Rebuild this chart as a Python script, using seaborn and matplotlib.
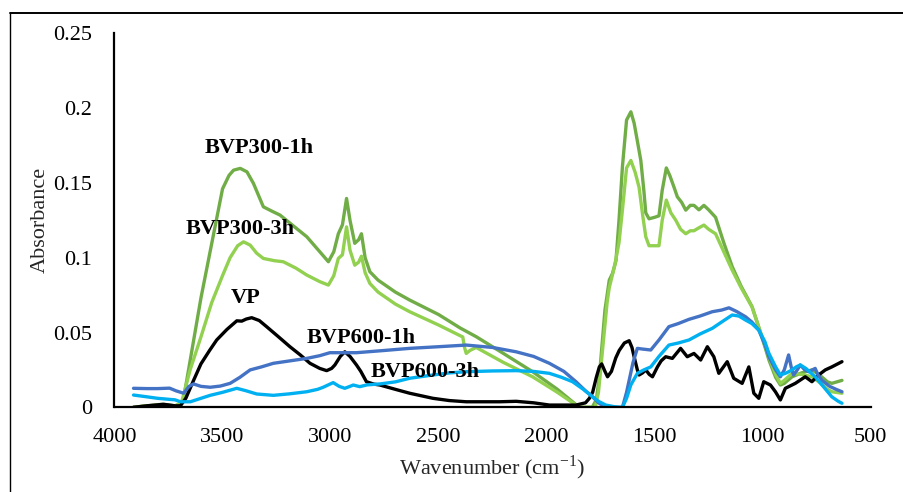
import numpy as np
import pandas as pd
import matplotlib
matplotlib.use("Agg")
import matplotlib.pyplot as plt
import seaborn as sns
from matplotlib.lines import Line2D

# ---- data ----
wn_300_1h = [3912, 3850, 3780, 3720, 3695, 3680, 3600, 3500, 3470, 3449, 3418, 3387, 3357, 3311, 3270, 3234,
             3170, 3110, 3050, 3010, 2985, 2964, 2945, 2926, 2910, 2888, 2870, 2857, 2840, 2818, 2780, 2700,
             2634, 2500, 2400, 2326, 2200, 2065, 1950, 1849, 1789, 1770, 1756, 1730, 1710, 1695, 1679, 1665,
             1649, 1630, 1610, 1595, 1580, 1564, 1550, 1541, 1526, 1500, 1480, 1465, 1446, 1430, 1410, 1395,
             1375, 1356, 1335, 1318, 1295, 1272, 1250, 1218, 1180, 1141, 1100, 1049, 1010, 971, 940, 918,
             900, 864, 820, 772, 740, 700, 680, 633]
ab_300_1h = [0.000, 0.001, 0.002, 0.001, 0.002, 0.006, 0.073, 0.146, 0.155, 0.1585, 0.1597, 0.1574, 0.1497, 0.134, 0.131, 0.1285,
             0.121, 0.114, 0.104, 0.0973, 0.104, 0.116, 0.122, 0.1396, 0.125, 0.1096, 0.112, 0.116, 0.100, 0.0906, 0.085, 0.077,
             0.0717, 0.062, 0.053, 0.0472, 0.036, 0.0238, 0.012, 0.000, 0.000, 0.005, 0.020, 0.065, 0.085, 0.0895, 0.098, 0.125,
             0.161, 0.192, 0.1975, 0.190, 0.178, 0.165, 0.145, 0.130, 0.126, 0.127, 0.128, 0.145, 0.160, 0.155, 0.147, 0.1407,
             0.137, 0.1318, 0.135, 0.135, 0.132, 0.135, 0.132, 0.127, 0.110, 0.094, 0.081, 0.0672, 0.050, 0.0316, 0.020, 0.0149,
             0.016, 0.0204, 0.023, 0.025, 0.022, 0.017, 0.016, 0.018]

wn_300_3h = [3912, 3850, 3780, 3720, 3690, 3650, 3600, 3550, 3500, 3465, 3430, 3403, 3372, 3342, 3311, 3260,
             3219, 3160, 3110, 3050, 3010, 2985, 2964, 2945, 2926, 2910, 2888, 2870, 2857, 2840, 2818, 2780,
             2700, 2634, 2500, 2388, 2380, 2372, 2355, 2326, 2200, 2065, 1950, 1849, 1775, 1760, 1740, 1720,
             1710, 1686, 1665, 1649, 1630, 1610, 1590, 1572, 1555, 1541, 1526, 1500, 1480, 1465, 1446, 1425,
             1402, 1380, 1356, 1335, 1318, 1295, 1272, 1250, 1218, 1180, 1141, 1100, 1049, 1010, 971, 940,
             918, 900, 864, 820, 772, 740, 700, 680, 633]
ab_300_3h = [0.000, 0.001, 0.001, 0.001, 0.003, 0.025, 0.047, 0.070, 0.088, 0.100, 0.108, 0.1106, 0.1084, 0.103, 0.0995, 0.098,
             0.0973, 0.093, 0.0884, 0.084, 0.0817, 0.088, 0.0995, 0.102, 0.1206, 0.105, 0.095, 0.097, 0.101, 0.090, 0.0828, 0.077,
             0.069, 0.0639, 0.055, 0.047, 0.040, 0.036, 0.038, 0.040, 0.030, 0.0204, 0.010, 0.000, 0.000, 0.010, 0.040, 0.070,
             0.080, 0.094, 0.110, 0.132, 0.160, 0.165, 0.157, 0.147, 0.128, 0.114, 0.108, 0.108, 0.108, 0.125, 0.1385, 0.130,
             0.125, 0.119, 0.116, 0.118, 0.118, 0.120, 0.1218, 0.119, 0.116, 0.104, 0.0917, 0.080, 0.067, 0.050, 0.0338, 0.022,
             0.016, 0.018, 0.0227, 0.022, 0.0204, 0.017, 0.012, 0.0104, 0.0094]

wn_vp = [3912, 3850, 3772, 3720, 3695, 3670, 3634, 3600, 3560, 3527, 3480, 3434, 3411, 3390, 3365, 3330,
         3296, 3240, 3188, 3140, 3095, 3050, 3018, 2995, 2980, 2955, 2934, 2910, 2880, 2860, 2834, 2800,
         2772, 2700, 2634, 2526, 2450, 2372, 2218, 2141, 2060, 1987, 1864, 1820, 1802, 1787, 1770, 1756,
         1745, 1730, 1718, 1700, 1680, 1664, 1640, 1618, 1605, 1595, 1580, 1572, 1556, 1541, 1525, 1510,
         1487, 1470, 1449, 1418, 1380, 1349, 1318, 1287, 1256, 1226, 1203, 1164, 1134, 1095, 1064, 1041,
         1018, 995, 964, 941, 918, 895, 849, 803, 772, 741, 710, 680, 633]
ab_vp = [0.000, 0.001, 0.002, 0.001, 0.001, 0.006, 0.018, 0.029, 0.038, 0.045, 0.052, 0.0578, 0.0576, 0.059, 0.0599, 0.058,
         0.0539, 0.047, 0.0405, 0.035, 0.0294, 0.026, 0.0245, 0.026, 0.0283, 0.034, 0.0371, 0.034, 0.0283, 0.024, 0.0171, 0.0155,
         0.0149, 0.012, 0.0094, 0.006, 0.0045, 0.0037, 0.0037, 0.004, 0.003, 0.0015, 0.0015, 0.003, 0.006, 0.010, 0.020, 0.027,
         0.029, 0.024, 0.0204, 0.024, 0.033, 0.038, 0.043, 0.0445, 0.040, 0.0338, 0.025, 0.0216, 0.023, 0.025, 0.022, 0.0204,
         0.027, 0.031, 0.0338, 0.0327, 0.0394, 0.0338, 0.036, 0.0316, 0.0405, 0.0338, 0.0227, 0.0305, 0.0194, 0.016, 0.027, 0.0094,
         0.006, 0.0171, 0.0149, 0.0104, 0.0049, 0.0127, 0.016, 0.0204, 0.0171, 0.0216, 0.025, 0.027, 0.0305]

wn_600_1h = [3912, 3850, 3800, 3745, 3715, 3680, 3655, 3634, 3600, 3557, 3510, 3465, 3420, 3372, 3320, 3265,
             3190, 3110, 3050, 3003, 2950, 2880, 2750, 2634, 2500, 2372, 2250, 2141, 2060, 1987, 1920, 1864,
             1820, 1787, 1760, 1726, 1649, 1630, 1618, 1600, 1580, 1560, 1518, 1480, 1434, 1390, 1341, 1290,
             1233, 1190, 1156, 1120, 1079, 1050, 1018, 990, 971, 940, 918, 900, 880, 868, 857, 840, 826,
             805, 787, 770, 757, 745, 726, 690, 660, 633]
ab_600_1h = [0.0127, 0.0125, 0.0125, 0.0128, 0.011, 0.0094, 0.014, 0.0156, 0.014, 0.0134, 0.0142, 0.016, 0.020, 0.025, 0.027, 0.0294,
             0.031, 0.0327, 0.0345, 0.0365, 0.0365, 0.0365, 0.038, 0.0394, 0.0405, 0.0416, 0.040, 0.0371, 0.034, 0.0294, 0.024, 0.0171,
             0.011, 0.007, 0.003, 0.000, 0.000, 0.010, 0.018, 0.030, 0.0394, 0.039, 0.0383, 0.045, 0.0539, 0.056, 0.0588, 0.061,
             0.0639, 0.065, 0.0665, 0.064, 0.0605, 0.057, 0.0516, 0.042, 0.0338, 0.025, 0.0204, 0.025, 0.035, 0.027, 0.0216, 0.025, 0.0283,
             0.025, 0.0238, 0.025, 0.026, 0.022, 0.018, 0.014, 0.012, 0.0104]

wn_600_3h = [3912, 3850, 3800, 3745, 3720, 3695, 3649, 3600, 3557, 3500, 3434, 3390, 3342, 3265, 3190, 3110,
             3060, 3034, 2988, 2960, 2934, 2910, 2895, 2865, 2830, 2772, 2700, 2634, 2526, 2450, 2372, 2250,
             2141, 2060, 1987, 1930, 1880, 1830, 1787, 1760, 1726, 1690, 1664, 1649, 1630, 1610, 1580, 1550,
             1518, 1480, 1434, 1390, 1341, 1290, 1233, 1190, 1141, 1110, 1079, 1050, 1018, 990, 971, 940,
             918, 890, 864, 845, 826, 800, 757, 720, 680, 650, 633]
ab_600_3h = [0.0082, 0.0070, 0.0060, 0.0053, 0.0050, 0.0037, 0.0037, 0.006, 0.008, 0.010, 0.0127, 0.011, 0.0089, 0.008, 0.009, 0.0104,
             0.012, 0.0134, 0.0165, 0.014, 0.0127, 0.014, 0.0149, 0.0138, 0.015, 0.0156, 0.017, 0.0194, 0.0216, 0.023, 0.0238, 0.0243,
             0.0245, 0.024, 0.0227, 0.020, 0.0171, 0.012, 0.007, 0.004, 0.0015, 0.0005, 0.000, 0.000, 0.006, 0.015, 0.0227, 0.025,
             0.027, 0.034, 0.0416, 0.043, 0.045, 0.049, 0.0528, 0.057, 0.0617, 0.061, 0.0583, 0.056, 0.0516, 0.044, 0.036, 0.027,
             0.0216, 0.023, 0.025, 0.027, 0.0283, 0.026, 0.0204, 0.014, 0.007, 0.004, 0.0027]

series_names = ["BVP300-1h", "BVP300-3h", "VP", "BVP600-1h", "BVP600-3h"]
x_ticks = [4000, 3500, 3000, 2500, 2000, 1500, 1000, 500]
y_ticks = [0, 0.05, 0.1, 0.15, 0.2, 0.25]
y_tick_labels = ["0", "0.05", "0.1", "0.15", "0.2", "0.25"]

frames = []
for name, wx, ay in zip(series_names,
                        [wn_300_1h, wn_300_3h, wn_vp, wn_600_1h, wn_600_3h],
                        [ab_300_1h, ab_300_3h, ab_vp, ab_600_1h, ab_600_3h]):
    frames.append(pd.DataFrame({"wn": wx, "abs": ay, "series": name}))
df = pd.concat(frames, ignore_index=True)

palette = {"BVP300-1h": "#70AD47", "BVP300-3h": "#92D050", "VP": "#000000",
           "BVP600-1h": "#4472C4", "BVP600-3h": "#00B0F0"}

sns.set_style("white")
plt.rcParams["font.family"] = ["Liberation Serif", "DejaVu Serif"]
plt.rcParams["mathtext.fontset"] = "stix"

fig = plt.figure(figsize=(9.04, 4.92), dpi=100)
ax = fig.add_axes([114.5 / 904, 1 - 407.3 / 492, (870.7 - 114.5) / 904, (407.3 - 33.3) / 492])

sns.lineplot(data=df, x="wn", y="abs", hue="series", palette=palette, hue_order=series_names,
             estimator=None, sort=True, linewidth=2.4, legend=False, ax=ax)
for ln in ax.get_lines():
    ln.set_solid_joinstyle("round")
    ln.set_solid_capstyle("round")

ax.set_xlim(4000, 500)
ax.set_ylim(0, 0.25)
ax.set_xticks(x_ticks)
ax.set_xticklabels([str(t) for t in x_ticks])
ax.set_yticks(y_ticks)
ax.set_yticklabels(y_tick_labels)
for s in ["top", "right"]:
    ax.spines[s].set_visible(False)
for s in ["left", "bottom"]:
    ax.spines[s].set_linewidth(1.6)
    ax.spines[s].set_color("black")
ax.tick_params(axis="both", direction="out", length=6, width=1.3, labelsize=16, colors="black")
ax.tick_params(axis="y", pad=10)
ax.tick_params(axis="x", pad=9)
ax.set_xlabel("Wavenumber (cm$^{\\mathregular{-1}}$)", fontsize=16, labelpad=5)
ax.set_ylabel("Absorbance", fontsize=16, labelpad=2.5)

labels_pos = {"BVP300-1h": (3331, 0.173), "BVP300-3h": (3417, 0.119), "VP": (3392, 0.0728),
              "BVP600-1h": (2859, 0.0461), "BVP600-3h": (2562, 0.0238)}
for name, (xx, yy) in labels_pos.items():
    ax.text(xx, yy, name, ha="center", va="center", fontsize=16, fontweight="bold", color="black")

# outer frame (top and left edges visible)
fig.add_artist(Line2D([9.5 / 904, 1.0], [1 - 12.7 / 492, 1 - 12.7 / 492], transform=fig.transFigure,
                      color="black", linewidth=1.4))
fig.add_artist(Line2D([9.5 / 904, 9.5 / 904], [0.0, 1 - 12.7 / 492], transform=fig.transFigure,
                      color="black", linewidth=1.0))

fig.savefig("out.png", dpi=100)
